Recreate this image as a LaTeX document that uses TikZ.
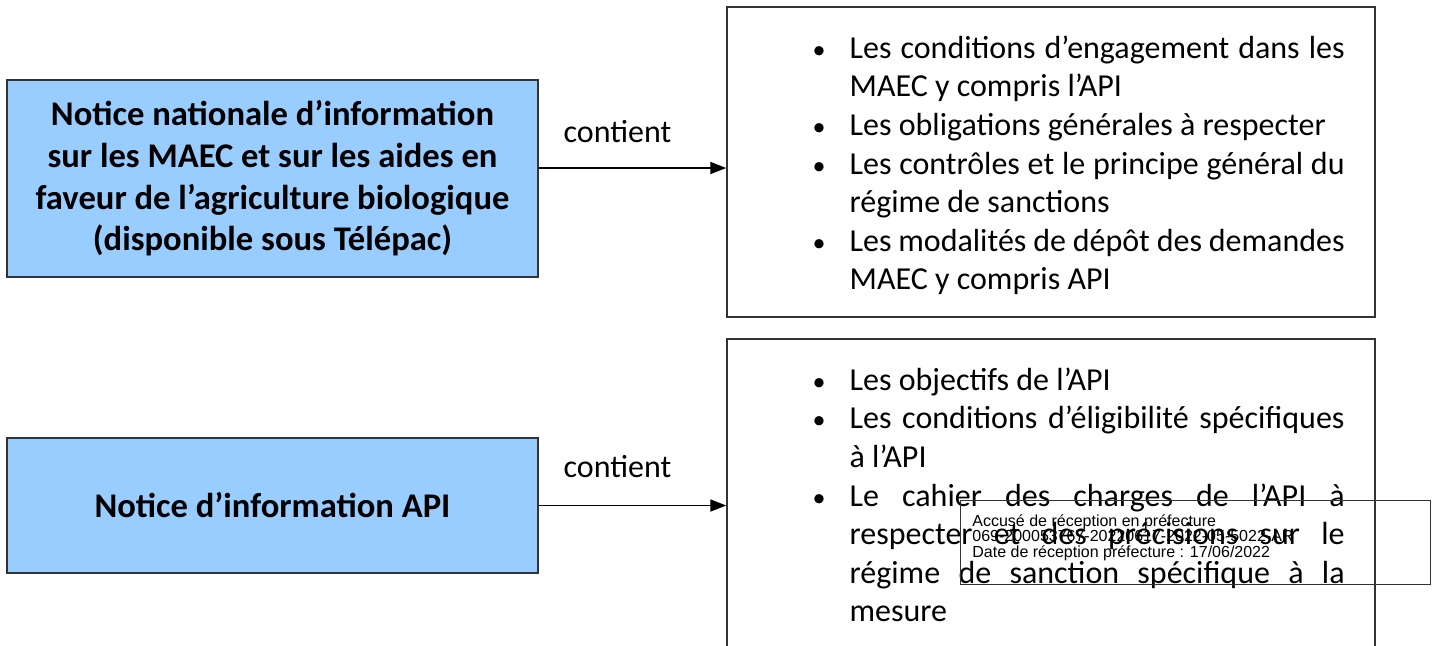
\documentclass[tikz,border=0pt]{standalone}
\usepackage{fontspec}
\setmainfont{Carlito}
\newfontfamily\stampfont{Liberation Sans}
\usetikzlibrary{arrows.meta}
\definecolor{noticeblue}{HTML}{99CCFF}
\definecolor{bordgris}{HTML}{333333}
\newenvironment{puces}{\begin{list}{{\fontsize{13}{13}\selectfont\textbullet}}{%
  \setlength{\leftmargin}{32pt}\setlength{\labelsep}{12pt}%
  \setlength{\labelwidth}{20pt}\setlength{\itemsep}{0pt}%
  \setlength{\parsep}{0pt}\setlength{\topsep}{0pt}\setlength{\partopsep}{0pt}}%
  \hyphenpenalty=10000 \tolerance=9999 \emergencystretch=20pt}{\end{list}}
\tikzset{
  notice/.style={draw=bordgris, line width=0.75pt, fill=noticeblue,
    minimum width=265.5pt, align=center,
    font=\bfseries\fontsize{17.3}{20.85}\selectfont},
  cadre/.style={draw=bordgris, line width=0.75pt, minimum width=324pt},
  contenu/.style={inner sep=0pt, text width=279.5pt, align=justify,
    font=\fontsize{16}{19.3}\selectfont},
  fleche/.style={line width=0.9pt, -{Triangle[length=8pt, width=6pt]}},
  lien/.style={font=\fontsize{16}{19}\selectfont},
  tampon/.style={draw=black!80, line width=0.5pt, minimum width=235pt,
    minimum height=42pt},
  tampontexte/.style={inner sep=0pt, align=left,
    font=\stampfont\fontsize{8}{7.75}\selectfont}
}
\begin{document}
\begin{tikzpicture}[x=0.5pt, y=-0.5pt]
  \useasboundingbox (0,0) rectangle (1437,645);
  \clip (0,0) rectangle (1437,645);
  \node[notice, minimum height=98.5pt] (nat) at (272.5,178.5)
    {Notice nationale d’information\\ sur les MAEC et sur les aides en\\
     faveur de l’agriculture biologique\\ (disponible sous Télépac)};
  \node[notice, minimum height=67.5pt] (api) at (272.5,505.5)
    {Notice d’information API};

  \node[cadre, minimum height=155pt] (natbox) at (1051,162) {};
  \node[cadre, minimum height=170pt] (apibox) at (1051,509) {};
  \node[contenu, anchor=north west] (natlist) at ([xshift=29.5pt, yshift=-6.5pt]natbox.north west) {%
    \begin{puces}
    \item Les conditions d’engagement dans les\linebreak MAEC y compris l’API
    \item Les obligations générales à respecter
    \item Les contrôles et le principe général du\linebreak régime de sanctions
    \item Les modalités de dépôt des demandes\linebreak MAEC y compris API
    \end{puces}};
  \node[contenu, anchor=north west] (apilist) at ([xshift=29.5pt, yshift=-6.5pt]apibox.north west) {%
    \begin{puces}
    \item Les objectifs de l’API
    \item Les conditions d’éligibilité spécifiques\linebreak à l’API
    \item Le cahier des charges de l’API à\linebreak respecter et des précisions sur le\linebreak
      régime de sanction spécifique à la\linebreak mesure
    \end{puces}};

  \draw[fleche] ([yshift=5.25pt]nat.east) -- ([yshift=5.25pt]nat.east -| natbox.west)
    node[lien, pos=0.42, above=9pt] (lien1) {contient};
  \draw[fleche] (api.east) -- (api.east -| apibox.west)
    node[lien, pos=0.42, above=10pt] (lien2) {contient};

  \node[tampon, anchor=north west] (stamp) at (960,500) {};
  \node[tampontexte, anchor=north west] (stamptext) at ([xshift=6pt, yshift=-7pt]stamp.north west)
    {Accusé de réception en préfecture\\ 069-200053767-20220617-2022-05-5022-AR\\
     Date de réception préfecture : 17/06/2022};
\end{tikzpicture}
\end{document}
